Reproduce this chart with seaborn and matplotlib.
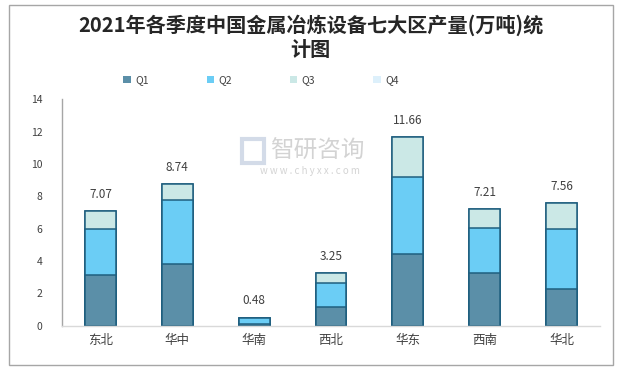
import pandas as pd
import matplotlib.pyplot as plt
import seaborn as sns
from matplotlib.patches import Rectangle

# Data (万吨)
regions = ["东北", "华中", "华南", "西北", "华东", "西南", "华北"]
q1 = [3.11, 3.79, 0.12, 1.15, 4.41, 3.23, 2.26]
q2 = [2.86, 3.97, 0.36, 1.47, 4.77, 2.80, 3.71]
q3 = [1.10, 0.98, 0.00, 0.63, 2.48, 1.18, 1.59]
q4 = [0.00, 0.00, 0.00, 0.00, 0.00, 0.00, 0.00]
totals = [7.07, 8.74, 0.48, 3.25, 11.66, 7.21, 7.56]

quarters = ["Q1", "Q2", "Q3", "Q4"]
colors = ["#5B8FA8", "#6BCDF5", "#CBE8E6", "#DDF0FB"]
EDGE = "#1F5F7F"

sns.set_theme(style="white")
plt.rcParams['font.family'] = ['Noto Sans CJK SC', 'DejaVu Sans']

df = pd.DataFrame({"region": regions, "Q1": q1, "Q2": q2, "Q3": q3, "Q4": q4})
# cumulative heights for stacking
df["c1"] = df["Q1"]
df["c2"] = df["c1"] + df["Q2"]
df["c3"] = df["c2"] + df["Q3"]
df["c4"] = df["c3"] + df["Q4"]

W, H = 621, 371
fig = plt.figure(figsize=(W / 100, H / 100), dpi=100)
fig.patch.set_facecolor("white")
ax = fig.add_axes([62 / W, 1 - 325.7 / H, (600 - 62) / W, (325.7 - 99.3) / H])

# draw tallest first so lower segments sit on top
for col, c in zip(["c4", "c3", "c2", "c1"], colors[::-1]):
    sns.barplot(data=df, x="region", y=col, color=c, width=0.4, ax=ax,
                edgecolor=EDGE, linewidth=1.1, saturation=1)

for i, t in enumerate(totals):
    ax.annotate(f"{t:.2f}", (i, t), xytext=(0, 17), textcoords="offset pixels",
                ha="center", va="center", fontsize=8.5, color="#404040")

ax.set_ylim(0, 14)
ax.set_xlim(-0.5, 6.5)
ax.set_yticks(range(0, 15, 2))
ax.set_xlabel("")
ax.set_ylabel("")
ax.tick_params(axis="y", labelsize=7.5, colors="#404040", length=0, pad=14)
ax.tick_params(axis="x", labelsize=9, colors="#404040", length=0, pad=6)
ax.set_xticks([i - 0.5 for i in range(8)], minor=True)
ax.tick_params(axis="x", which="minor", length=5, color="#D9D9D9", width=1)
for s in ["top", "right"]:
    ax.spines[s].set_visible(False)
ax.spines["left"].set_color("#A6A6A6")
ax.spines["bottom"].set_color("#D9D9D9")
ax.spines["left"].set_linewidth(1)
ax.spines["bottom"].set_linewidth(1)

# title
fig.text(0.5, 1 - 25 / H, "2021年各季度中国金属冶炼设备七大区产量(万吨)统", ha="center", va="center",
         fontsize=14.5, fontweight="bold", color="#262626")
fig.text(0.5, 1 - 50 / H, "计图", ha="center", va="center",
         fontsize=14.5, fontweight="bold", color="#262626")

# legend
handles = [Rectangle((0, 0), 1, 1, facecolor=c, edgecolor="none") for c in colors]
fig.legend(handles, quarters, loc="center", bbox_to_anchor=(261 / W, 1 - 80 / H), ncol=4,
           frameon=False, fontsize=7.5, handlelength=0.7, handleheight=0.7,
           handletextpad=0.4, columnspacing=5.6, labelcolor="#404040")

# watermark
fig.text(270 / W, 1 - 151 / H, "智研咨询", ha="left", va="center", fontsize=17,
         color="#C9C9C9", alpha=0.8)
fig.text(310 / W, 1 - 171 / H, "w w w . c h y x x . c o m", ha="center", va="center",
         fontsize=7, color="#C9C9C9", alpha=0.8)
fig.patches.append(Rectangle((242 / W, 1 - 163 / H), 22 / W, 24 / H, transform=fig.transFigure,
                             facecolor="none", edgecolor="#C9D3E3", linewidth=3, alpha=0.8))

# outer frame
fig.patches.append(Rectangle((8.5 / W, 1 - 365 / H), (612.5 - 8.5) / W, (365 - 5) / H,
                             transform=fig.transFigure, facecolor="none",
                             edgecolor="#A6A6A6", linewidth=1))

fig.savefig("out.png", dpi=100)
